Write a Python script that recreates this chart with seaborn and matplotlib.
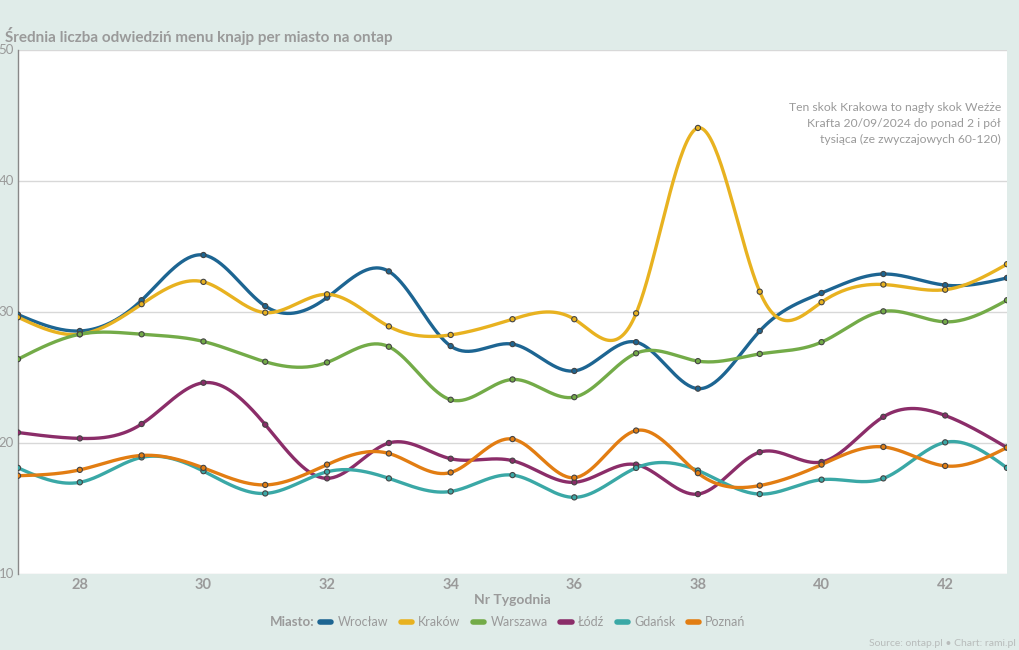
#!/usr/bin/env python3

import numpy as np
import pandas as pd
import matplotlib
matplotlib.use("Agg")
import matplotlib.pyplot as plt
from matplotlib.lines import Line2D
import seaborn as sns

weeks = list(range(27, 44))
cities = ['Wrocław', 'Kraków', 'Warszawa', 'Łódź', 'Gdańsk', 'Poznań']

wroclaw = [29.8, 28.55, 30.9, 34.35, 30.45, 31.1, 33.1, 27.4, 27.55, 25.5, 27.7, 24.15, 28.55, 31.45, 32.9, 32.05, 32.6]
krakow = [29.6, 28.3, 30.6, 32.3, 29.95, 31.35, 28.9, 28.25, 29.45, 29.45, 29.9, 44.05, 31.55, 30.75, 32.1, 31.7, 33.65]
warszawa = [26.4, 28.3, 28.3, 27.75, 26.2, 26.15, 27.35, 23.3, 24.85, 23.5, 26.85, 26.25, 26.8, 27.7, 30.05, 29.25, 30.9]
lodz = [20.8, 20.35, 21.45, 24.6, 21.4, 17.3, 20.0, 18.8, 18.65, 17.0, 18.35, 16.1, 19.3, 18.55, 22.0, 22.1, 19.65]
gdansk = [18.1, 17.0, 18.9, 17.85, 16.15, 17.8, 17.3, 16.3, 17.55, 15.85, 18.1, 17.9, 16.1, 17.2, 17.3, 20.05, 18.1]
poznan = [17.5, 17.95, 19.05, 18.1, 16.8, 18.35, 19.2, 17.75, 20.3, 17.35, 20.95, 17.7, 16.75, 18.35, 19.7, 18.25, 19.65]

series = [wroclaw, krakow, warszawa, lodz, gdansk, poznan]
colors = ['#1d6592', '#e8b220', '#73ab48', '#8b2d69', '#3aa8a6', '#e27d12']

BG = '#e0ece9'
GREY = '#9a9a9a'


def natural_spline(x, y, xs):
    # natural cubic spline, used only to draw the smooth curve through the points
    x = np.asarray(x, float)
    y = np.asarray(y, float)
    n = len(x)
    h = np.diff(x)
    A = np.zeros((n, n))
    b = np.zeros(n)
    A[0, 0] = 1
    A[-1, -1] = 1
    for i in range(1, n - 1):
        A[i, i - 1] = h[i - 1]
        A[i, i] = 2 * (h[i - 1] + h[i])
        A[i, i + 1] = h[i]
        b[i] = 3 * ((y[i + 1] - y[i]) / h[i] - (y[i] - y[i - 1]) / h[i - 1])
    c = np.linalg.solve(A, b)
    bb = (y[1:] - y[:-1]) / h - h * (2 * c[:-1] + c[1:]) / 3
    d = (c[1:] - c[:-1]) / (3 * h)
    idx = np.clip(np.searchsorted(x, xs, side='right') - 1, 0, n - 2)
    t = xs - x[idx]
    return y[idx] + bb[idx] * t + c[idx] * t ** 2 + d[idx] * t ** 3


def main():
    sns.set_theme(style="white")
    plt.rcParams['font.family'] = ['Lato', 'DejaVu Sans']

    pts = pd.DataFrame({
        'week': weeks * len(cities),
        'value': sum(series, []),
        'city': sum([[c] * len(weeks) for c in cities], []),
    })

    xs = np.linspace(weeks[0], weeks[-1], 600)
    curves = []
    for c, vals in zip(cities, series):
        curves.append(pd.DataFrame({'week': xs, 'value': natural_spline(weeks, vals, xs), 'city': c}))
    curves = pd.concat(curves)

    pal = dict(zip(cities, colors))

    fig = plt.figure(figsize=(10.2, 6.5), dpi=100)
    fig.patch.set_facecolor(BG)
    ax = fig.add_axes([18 / 1020, 1 - 574 / 650, (1007 - 18) / 1020, (574 - 50) / 650])
    ax.set_facecolor('white')

    sns.lineplot(data=curves, x='week', y='value', hue='city', palette=pal,
                 hue_order=cities, linewidth=2.4, legend=False, ax=ax,
                 estimator=None, sort=False)
    sns.scatterplot(data=pts, x='week', y='value', hue='city', palette=pal,
                    hue_order=cities, s=14, edgecolor='#444444', linewidth=0.8,
                    legend=False, ax=ax, zorder=5)

    ax.set_xlim(27, 43)
    ax.set_ylim(10, 50)
    ax.set_xticks(range(28, 43, 2))
    ax.set_yticks([10, 20, 30, 40, 50])
    ax.yaxis.grid(True, color='#d8d8d8', linewidth=1)
    ax.xaxis.grid(False)
    for s in ['top', 'right', 'bottom']:
        ax.spines[s].set_visible(False)
    ax.spines['left'].set_color('#888888')
    ax.spines['left'].set_linewidth(1)
    ax.tick_params(axis='y', length=0, pad=3, labelsize=9.5, labelcolor=GREY)
    ax.tick_params(axis='x', length=0, pad=3, labelsize=10.5, labelcolor=GREY)
    for lab in ax.get_xticklabels():
        lab.set_fontweight('bold')
    for lab in ax.get_yticklabels():
        lab.set_verticalalignment('center')
    ax.set_ylabel('')
    ax.set_xlabel('Nr Tygodnia', fontsize=10, fontweight='bold', color=GREY, labelpad=1)

    fig.text(5 / 1020, 1 - 36 / 650, 'Średnia liczba odwiedziń menu knajp per miasto na ontap',
             fontsize=11, fontweight='bold', color=GREY, va='center', ha='left')

    ax.text(0.994, 0.9,
            'Ten skok Krakowa to nagły skok Weźże\nKrafta 20/09/2024 do ponad 2 i pół\ntysiąca (ze zwyczajowych 60-120)',
            transform=ax.transAxes, ha='right', va='top', fontsize=8.7, color=GREY,
            linespacing=1.55)

    handles = [Line2D([0], [0], color=col, lw=4, solid_capstyle='round') for col in colors]
    fig.text(270 / 1020, 1 - 622 / 650, 'Miasto:', fontsize=9.5, fontweight='bold',
             color=GREY, va='center', ha='left')
    leg = fig.legend(handles, cities, loc='center left', bbox_to_anchor=(320 / 1020, 1 - 622 / 650),
                     ncol=6, frameon=False, fontsize=9, handlelength=0.9, handletextpad=0.5,
                     columnspacing=1.0, borderpad=0, borderaxespad=0)
    for t in leg.get_texts():
        t.set_color(GREY)

    fig.text(1016 / 1020, 1 - 643 / 650, 'Source: ontap.pl • Chart: rami.pl', fontsize=7.5,
             color='#b8bcbb', ha='right', va='center')

    fig.savefig('out.png', dpi=100, facecolor=BG)
    plt.close(fig)


if __name__ == "__main__":
    main()
